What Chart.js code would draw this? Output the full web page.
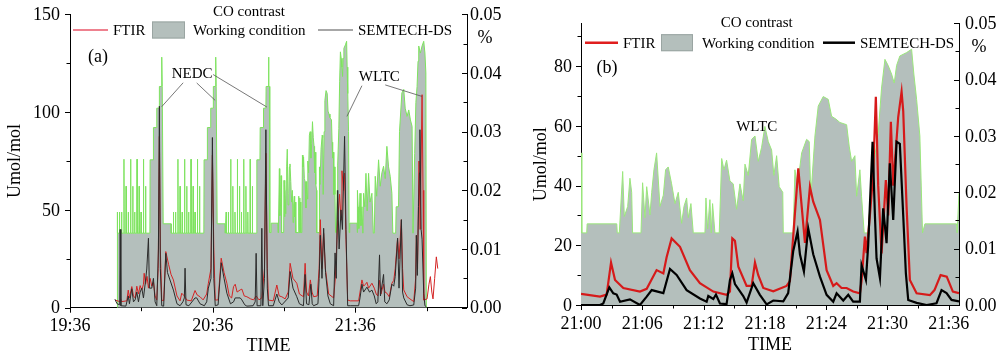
<!DOCTYPE html>
<html>
<head>
<meta charset="utf-8">
<script src="https://cdn.jsdelivr.net/npm/chart.js@4.4.1/dist/chart.umd.min.js"></script>
<style>
  body { margin: 0; background: #fff; width: 1000px; height: 359px; overflow: hidden; position: relative; }
  canvas { position: absolute; top: 0; }
  #chartA { left: 0; }
  #chartB { left: 500px; }
</style>
</head>
<body>
<canvas id="chartA" width="520" height="359"></canvas>
<canvas id="chartB" width="500" height="359"></canvas>
<script>
// ---- tick labels ----
const leftTimeTicks = [0, 60, 120];                 // minutes after 19:36
const leftTimeLabels = ['19:36', '20:36', '21:36'];
const rightTimeTicks = [0, 6, 12, 18, 24, 30, 36];  // minutes after 21:00
const rightTimeLabels = ['21:00', '21:06', '21:12', '21:18', '21:24', '21:30', '21:36'];
const leftConcTicks = [0, 50, 100, 150];
const rightConcTicks = [0, 20, 40, 60, 80];
const pctTicks = [0, 0.01, 0.02, 0.03, 0.04, 0.05];
const pctLabels = ['0.00', '0.01', '0.02', '0.03', '0.04', '0.05'];
const wltcOffset = 84; // 21:00 in minutes after 19:36

// ---- panel (a): working condition, [minute, %] ----
const leftWorkNEDC = [
  [19.85,0],[19.9,0.0163],[20.0,0.0127],
  [20.7,0.0127],[20.8,0.0163],[20.9,0.0127],
  [21.6,0.0127],[21.7,0.0163],[21.8,0.0127],
  [22.6,0.0127],[22.7,0.0253],[22.8,0.0127],
  [23.5,0.0127],[23.6,0.0207],[23.7,0.0127],
  [24.4,0.0127],[24.5,0.0163],[24.6,0.0127],
  [25.4,0.0127],[25.5,0.0253],[25.6,0.0127],
  [26.3,0.0127],[26.4,0.0207],[26.5,0.0127],
  [27.1,0.0127],[27.2,0.0163],[27.3,0.0127],
  [28.1,0.0127],[28.2,0.0253],[28.3,0.0127],
  [29.0,0.0127],[29.1,0.0207],[29.2,0.0127],
  [29.8,0.0127],[29.9,0.0163],[30.0,0.0127],
  [30.8,0.0127],[30.9,0.0253],[31.0,0.0127],
  [31.7,0.0127],[31.8,0.0207],[31.9,0.0127],
  [33.6,0.0127],[33.7,0.0252],[35.0,0.0252],[35.1,0.0307],[36.4,0.0307],[36.5,0.034],
  [37.5,0.034],[37.6,0.0377],[38.4,0.0377],[38.6,0.0427],[38.8,0.0377],[39.1,0.0377],[39.2,0.0143],
  [42.5,0.0143],[42.6,0.0127],
  [43.4,0.0127],[43.5,0.0163],[43.6,0.0127],
  [44.3,0.0127],[44.4,0.0163],[44.5,0.0127],
  [45.3,0.0127],[45.4,0.0253],[45.5,0.0127],
  [46.2,0.0127],[46.3,0.0207],[46.4,0.0127],
  [47.1,0.0127],[47.2,0.0163],[47.3,0.0127],
  [48.1,0.0127],[48.2,0.0253],[48.3,0.0127],
  [49.0,0.0127],[49.1,0.0207],[49.2,0.0127],
  [49.8,0.0127],[49.9,0.0163],[50.0,0.0127],
  [50.8,0.0127],[50.9,0.0253],[51.0,0.0127],
  [51.7,0.0127],[51.8,0.0207],[51.9,0.0127],
  [52.5,0.0127],[52.6,0.0163],[52.7,0.0127],
  [53.5,0.0127],[53.6,0.0253],[53.7,0.0127],
  [54.4,0.0127],[54.5,0.0207],[54.6,0.0127],
  [56.3,0.0127],[56.4,0.0252],[57.7,0.0252],[57.8,0.0307],[59.1,0.0307],[59.2,0.034],
  [60.2,0.034],[60.3,0.0377],[61.1,0.0377],[61.3,0.0427],[61.5,0.0377],[61.8,0.0377],[61.9,0.0143],
  [65.2,0.0143],[65.3,0.0127],
  [65.6,0.0127],[65.7,0.0163],[65.8,0.0127],
  [66.5,0.0127],[66.6,0.0163],[66.7,0.0127],
  [67.5,0.0127],[67.6,0.0253],[67.7,0.0127],
  [68.4,0.0127],[68.5,0.0207],[68.6,0.0127],
  [69.3,0.0127],[69.4,0.0163],[69.5,0.0127],
  [70.3,0.0127],[70.4,0.0253],[70.5,0.0127],
  [71.2,0.0127],[71.3,0.0207],[71.4,0.0127],
  [72.0,0.0127],[72.1,0.0163],[72.2,0.0127],
  [73.0,0.0127],[73.1,0.0253],[73.2,0.0127],
  [73.9,0.0127],[74.0,0.0207],[74.1,0.0127],
  [74.7,0.0127],[74.8,0.0163],[74.9,0.0127],
  [75.7,0.0127],[75.8,0.0253],[75.9,0.0127],
  [76.6,0.0127],[76.7,0.0207],[76.8,0.0127],
  [78.5,0.0127],[78.6,0.0252],[79.9,0.0252],[80.0,0.0307],[81.3,0.0307],[81.4,0.034],
  [82.4,0.034],[82.5,0.0377],[83.3,0.0377],[83.5,0.0427],[83.7,0.0377],[83.9,0.0377]
];
const leftWorkWLTC2 = [
  [121.2,0.0172],[121.5,0.0135],[122.0,0.0195],[122.4,0.014],[122.8,0.0172],[123.2,0.0127],
  [123.5,0.0195],[124.0,0.0172],[124.5,0.0229],[125.0,0.0165],[125.6,0.0229],[126.2,0.018],
  [127.0,0.0195],[127.6,0.0127],[128.0,0.0127],[128.4,0.0224],[129.0,0.019],[129.8,0.0252],
  [130.5,0.0207],[131.2,0.023],[131.9,0.0241],[132.6,0.022],[133.3,0.0275],[134.0,0.024],
  [134.7,0.0224],[135.4,0.0195],[135.8,0.0127],[137.0,0.0127],[137.2,0.0172],[138.2,0.0172],
  [138.6,0.03],[139.6,0.0366],[140.4,0.0372],[141.0,0.034],[141.8,0.0326],[142.5,0.0337],
  [143.2,0.032],[143.9,0.0309],[144.3,0.0127],[144.6,0.0127],[145.0,0.0263],[145.5,0.035],
  [146.0,0.0377],[146.4,0.042],[146.7,0.0446],[147.4,0.0434],[148.1,0.0446],[148.8,0.0454],
  [149.3,0.0434],[149.7,0.04],[149.9,0]
];
// ---- panel (a): concentrations, [minute, umol/mol] ----
const leftFTIR = [
  [18.9,3.9],[21.0,3.1],[21.3,4.5],[21.6,3.1],[23.9,3.5],[24.5,9],[25.0,5],[26.0,10.8],[26.7,6],
  [27.4,5],[28.1,11],[28.8,7],[29.5,11.3],[30.2,9],[30.9,12],[31.2,17.6],[31.8,12],[32.4,16],
  [33.0,10],[33.7,15],[34.4,11],[35.1,13],[35.8,6],[36.5,3.9],[37.1,20],[37.6,87.6],[38.0,30],
  [38.6,3.9],[39.4,3.5],[40.3,28.7],[41.5,22],[42.5,17],[43.5,14.2],[45.0,6],[46.3,3.5],[47.0,7.4],
  [48.1,6],[49.1,3.9],[51.0,3.5],[52.6,8.8],[53.5,6.5],[54.7,5.6],[56.0,4],[57.5,7],[58.2,12.5],
  [59.3,20],[59.9,78],[60.5,30],[61.1,3.9],[62.3,4],[63.6,25.3],[64.8,18],[66.0,12.5],[67.0,6],
  [68.0,5],[68.8,10.8],[69.5,12],[70.3,8],[71.6,9.1],[72.3,9.5],[73.3,6],[74.4,5.6],[76.0,4.5],
  [77.2,4],[78.3,6],[79.5,4],[80.7,5],[81.8,20],[82.4,79],[83.0,20],[83.5,3.9],[85.5,3.5],
  [87.0,11.6],[88.0,6],[89.1,5.6],[90.5,4.5],[91.8,8],[92.6,22.7],[93.8,15],[95.4,12.5],[96.5,7],
  [98.2,5.6],[98.9,22.7],[99.5,8],[100.3,6],[101.1,14.2],[101.8,8],[102.5,5.6],[104.0,6],[104.8,20],
  [105.3,45],[106.0,20],[106.7,38],[107.4,20],[108.8,7],[110.9,5],[111.6,15],[112.3,34.7],[112.6,45],
  [113.4,58],[114.0,45],[114.4,70],[115.1,60],[115.5,68.8],[116.1,35],[116.8,3.9],[117.9,3.5],
  [121.4,3.5],[122.0,8],[122.8,14.2],[123.5,11],[124.3,12],[124.9,13],[125.6,10],[127.0,12.5],
  [128.0,10],[128.8,7],[129.5,6],[130.2,14],[130.8,7],[131.9,12],[132.5,8],[133.3,7.4],[134.3,5.6],
  [135.4,12.5],[136.2,14],[136.8,20],[137.8,35.5],[138.4,25],[139.4,45],[139.9,20],[140.4,9.1],
  [141.8,5.6],[143.0,4.5],[144.6,3.1],[145.4,15],[145.7,37],[146.2,20],[146.8,75],[147.3,40],
  [148.1,108.9],[148.5,60],[148.8,3.9],[150.2,4.5],[151.0,12],[151.6,15.9],[152.2,8],[152.7,4.5],
  [153.4,15],[154.1,26],[154.7,20]
];
const leftSEMTECH = [
  [18.9,4.3],[19.8,2],[20.9,1.5],[21.1,40],[21.4,1],[23.5,0.8],[24.5,6],[25.0,2],[26.0,9.7],
  [26.7,3],[27.4,4],[28.1,8],[28.8,3],[29.5,8],[30.2,10],[30.9,5],[31.6,12],[32.3,19.8],[33.0,35.5],
  [33.4,10],[34.4,10],[35.1,15],[35.8,3],[36.5,1],[37.2,30],[37.6,103],[38.0,20],[38.6,1],[39.4,0.8],
  [40.3,27.8],[41.0,18],[43.5,9],[45.0,2],[46.3,1],[47.5,3],[48.1,5],[48.4,20.2],[48.8,1.5],[50.0,1],
  [52.6,5],[53.3,5],[54.7,2],[56.5,1],[57.5,3],[58.2,10],[59.3,15],[59.9,87],[60.5,15],[61.1,1],
  [62.3,1.5],[63.6,23],[64.8,15],[66.0,7.4],[67.5,2],[68.8,3],[69.5,5],[71.6,5],[72.3,4],[73.5,1.5],
  [74.4,0.8],[77.0,1],[77.9,3],[78.3,27.8],[78.7,1],[80.3,1],[80.7,40.6],[81.1,1],[81.8,15],[82.4,91],
  [83.0,10],[83.5,1],[85.5,1],[87.0,7],[88.0,3],[89.1,1.4],[91.8,5],[92.6,18.5],[93.8,10],[95.4,5.6],
  [96.5,2],[98.2,1],[98.9,17],[99.5,2],[100.5,1.5],[101.3,12],[101.9,2],[102.5,1],[104.3,2],[104.8,15],
  [105.3,37],[106.0,15],[106.7,40.6],[107.5,18],[108.5,6],[109.5,2],[110.9,1],[111.5,28],[112.0,15],
  [112.6,60],[113.2,30],[114.0,50],[114.6,40],[115.5,87.6],[116.1,40],[116.8,1],[117.9,1],[121.4,1],
  [122.0,5],[122.8,12],[123.5,8],[124.9,10.5],[126.0,8],[127.0,9],[128.0,6],[128.8,2],[129.5,3],
  [130.2,27],[130.6,6],[131.9,17],[132.4,3],[133.3,2],[134.3,4],[135.4,12],[136.2,11],[136.8,16],
  [137.8,35.5],[138.4,10],[139.4,45],[139.9,8],[140.4,5],[141.8,1.5],[143.0,1],[144.6,1.4],[145.4,10],
  [145.7,37],[146.1,16.5],[146.6,51.7],[147.0,69],[147.2,91],[147.7,40],[148.1,35],[148.8,7.4],
  [149.3,1],[149.9,0.5]
];

// ---- panel (b): WLTC detail, [minute after 21:00, value] ----
const wltcWork = [
  [0,0.027],[0.08,0.0128],[0.56,0.0128],[0.6,0.0144],[3.5,0.0144],[3.55,0.0128],[3.75,0.0128],
  [4.08,0.0237],[4.24,0.0157],[4.57,0.0175],[4.79,0.0225],[4.96,0.02],[5.05,0.0128],[5.87,0.0128],
  [6.03,0.0217],[6.26,0.0155],[6.43,0.021],[6.75,0.016],[6.92,0.02],[7.14,0.024],[7.4,0.027],
  [7.73,0.0175],[8.06,0.0195],[8.28,0.024],[8.54,0.0245],[8.87,0.0215],[9.2,0.018],[9.52,0.02],
  [9.85,0.0145],[10.08,0.0175],[10.34,0.019],[10.5,0.0155],[10.76,0.018],[10.99,0.0128],
  [12.13,0.0128],[12.23,0.019],[12.4,0.0135],[12.62,0.0187],[12.75,0.0128],[12.88,0.018],
  [13.11,0.0128],[13.53,0.0128],[13.77,0.026],[13.99,0.024],[14.25,0.0257],[14.58,0.022],
  [14.9,0.0215],[15.23,0.017],[15.56,0.0215],[15.88,0.0185],[16.05,0.025],[16.37,0.023],
  [16.7,0.0294],[17.03,0.03],[17.35,0.0255],[17.68,0.028],[18.0,0.0317],[18.33,0.029],
  [18.66,0.0275],[18.88,0.023],[19.15,0.0265],[19.4,0.021],[19.75,0.02],[19.8,0.0128],
  [20.77,0.0128],[20.94,0.024],[21.17,0.021],[21.6,0.027],[22.08,0.0294],[22.34,0.029],
  [22.5,0.0193],[22.9,0.03],[23.22,0.0353],[23.71,0.037],[24.2,0.0365],[24.53,0.0335],
  [24.95,0.033],[25.34,0.0324],[26.0,0.032],[26.25,0.0282],[26.49,0.0255],[26.81,0.0265],
  [26.98,0.0193],[27.3,0.024],[27.46,0.0193],[27.72,0.0128],[28.11,0.0128],[28.35,0.02],
  [28.6,0.0243],[29.09,0.0305],[29.42,0.0385],[29.75,0.0436],[30.07,0.0425],[30.4,0.041],
  [30.66,0.0394],[30.89,0.0425],[31.21,0.0442],[31.87,0.0448],[32.36,0.0454],[32.58,0.041],
  [32.85,0.0365],[33.17,0.03],[33.43,0.0128],[33.66,0.0144],[36.76,0.0144],[36.82,0.0128],[37.0,0.02]
];
const wltcFTIR = [
  [0,3.7],[1.86,2.8],[2.51,3.5],[2.94,14.2],[3.33,8.4],[4.14,5.7],[5.77,4.5],[6.43,5.4],[7.4,11.7],
  [8.06,10.6],[8.38,16],[8.87,22.3],[9.69,19.5],[10.66,11.7],[11.64,7.3],[12.95,4.5],[14.25,3.4],
  [14.58,4.5],[14.81,22.3],[15.07,21.5],[15.4,12.8],[16.21,6.4],[16.7,6.4],[17.03,14.2],[17.35,10],
  [17.84,5.7],[18.82,4.6],[20.12,6.4],[20.45,8],[20.77,22.9],[21.27,45.8],[21.92,20.8],[22.41,39.6],
  [22.73,34.6],[23.39,28.5],[24.04,11.7],[24.69,6.4],[25.02,7.3],[25.5,5.7],[26.0,5.7],[26.64,4.5],
  [27.3,3.9],[27.46,8],[27.79,22.9],[27.95,17.4],[28.28,30],[28.6,44],[28.86,69.8],[29.09,40],
  [29.42,17.3],[29.84,41.9],[30.07,30],[30.33,61.4],[30.56,40],[31.05,63],[31.38,71.5],[31.54,65],
  [31.87,32.9],[32.19,8.4],[32.85,3.9],[34.15,3.3],[34.6,5],[35.2,10],[35.8,9.5],[36.4,4.5],[37.0,4]
];
const wltcSEMTECH = [
  [0,0],[1.86,0],[2.18,0.5],[2.77,5.9],[3.16,3.9],[3.49,3.5],[3.82,1.1],[4.79,1.9],[5.77,0],
  [6.43,2.8],[6.92,5],[8.06,4],[8.71,12.1],[9.36,10.1],[10.34,5],[11.64,2.2],[12.3,1.1],[12.46,3],
  [12.95,2],[13.21,3.5],[13.6,0.5],[14.25,0.3],[14.58,8.4],[14.81,10.6],[15.07,7],[15.88,3],
  [16.21,0.8],[16.86,7.3],[17.51,3.4],[18.17,0.2],[18.82,1.5],[19.8,1.2],[20.28,4],[20.77,18],
  [21.2,24.6],[21.43,17],[21.82,11.2],[22.24,25.7],[22.73,17],[23.39,9.5],[24.04,3.4],[24.69,1.1],
  [25.02,3.9],[25.67,1.5],[26.16,3.4],[26.64,1.1],[27.3,1.1],[27.46,13.4],[27.89,8.4],[28.11,20],
  [28.54,54.7],[28.77,30],[28.93,15.6],[29.26,9],[29.58,32.4],[29.91,20.7],[30.23,47.5],[30.56,28.5],
  [30.89,54.7],[31.21,54],[31.54,30],[31.8,10.6],[32.03,1.7],[32.85,0.7],[33.83,0],[34.8,0.6],
  [35.29,5],[35.78,4],[36.27,1.7],[37.0,1.2]
];

// ---- helpers ----
const FONT = '"Liberation Serif", "Times New Roman", serif';
const GREY_FILL = '#b4bfbc';

function toXY(pairs, shift) {
  return pairs.map(p => ({ x: p[0] + (shift || 0), y: p[1] }));
}

// tick marks and tick labels, drawn from the chart's scales
// (right axis ticks point inward like the original)
const axisMarks = {
  id: 'axisMarks',
  afterDraw(chart, args, opts) {
    const ctx = chart.ctx, area = chart.chartArea;
    ctx.save();
    ctx.strokeStyle = '#000';
    ctx.fillStyle = '#000';
    ctx.lineWidth = 1;
    ctx.font = '18px ' + FONT;
    opts.marks.forEach(m => {
      const s = chart.scales[m.scale];
      ctx.beginPath();
      const all = m.major.map(v => [v, 5]).concat(m.minor.map(v => [v, 3.5]));
      all.forEach(([v, len]) => {
        const p = Math.round(s.getPixelForValue(v)) + 0.5;
        if (m.scale === 'x') {
          ctx.moveTo(p, area.bottom); ctx.lineTo(p, area.bottom + len);
        } else if (m.scale === 'y') {
          ctx.moveTo(area.left, p); ctx.lineTo(area.left - len, p);
        } else {
          ctx.moveTo(area.right, p); ctx.lineTo(area.right - len, p);
        }
      });
      ctx.stroke();
      m.major.forEach((v, i) => {
        const p = s.getPixelForValue(v);
        if (m.scale === 'x') {
          ctx.textAlign = 'center'; ctx.textBaseline = 'middle';
          ctx.fillText(m.labels[i], p, area.bottom + m.pad);
        } else if (m.scale === 'y') {
          ctx.textAlign = 'right'; ctx.textBaseline = 'middle';
          ctx.fillText(m.labels[i], area.left - m.pad, p + 1);
        } else {
          ctx.textAlign = 'left'; ctx.textBaseline = 'middle';
          ctx.fillText(m.labels[i], area.right + m.pad, p + 1);
        }
      });
    });
    ctx.restore();
  }
};

// legend block with "CO contrast" heading, plus text notes and leader lines
const decorations = {
  id: 'decorations',
  afterDraw(chart, args, o) {
    const ctx = chart.ctx;
    const sx = chart.scales.x, sy = chart.scales.y;
    ctx.save();
    ctx.fillStyle = '#000';
    ctx.textBaseline = 'middle';
    ctx.font = '15px ' + FONT;
    ctx.textAlign = 'center';
    ctx.fillText('CO contrast', o.title[0], o.title[1]);
    ctx.textAlign = 'left';
    const L = o.legend;
    // FTIR
    ctx.strokeStyle = L.ftirColor; ctx.lineWidth = L.lineWidth;
    ctx.beginPath(); ctx.moveTo(L.ftir[0], L.y); ctx.lineTo(L.ftir[1], L.y); ctx.stroke();
    ctx.fillText('FTIR', L.ftir[2], L.y + 1);
    // working condition box
    ctx.fillStyle = GREY_FILL;
    ctx.fillRect(L.box[0], L.y - 8.5, L.box[1] - L.box[0], 17);
    ctx.strokeStyle = '#9aa5a2'; ctx.lineWidth = 1;
    ctx.strokeRect(L.box[0] + 0.5, L.y - 8, L.box[1] - L.box[0] - 1, 16);
    ctx.fillStyle = '#000';
    ctx.fillText('Working condition', L.box[2], L.y + 1);
    // SEMTECH
    ctx.strokeStyle = L.semColor; ctx.lineWidth = L.lineWidth;
    ctx.beginPath(); ctx.moveTo(L.sem[0], L.y); ctx.lineTo(L.sem[1], L.y); ctx.stroke();
    ctx.fillText('SEMTECH-DS', L.sem[2], L.y + 1);
    // percent unit under right axis
    ctx.font = '18px ' + FONT;
    ctx.textAlign = 'center';
    ctx.fillText('%', o.pct[0], o.pct[1]);
    // notes in data coordinates
    o.notes.forEach(n => {
      ctx.font = (n.size || 15) + 'px ' + FONT;
      ctx.fillText(n.t, sx.getPixelForValue(n.x), sy.getPixelForValue(n.y));
    });
    ctx.strokeStyle = '#555';
    ctx.lineWidth = 0.8;
    ctx.beginPath();
    o.leaders.forEach(l => {
      ctx.moveTo(sx.getPixelForValue(l[0]), sy.getPixelForValue(l[1]));
      ctx.lineTo(sx.getPixelForValue(l[2]), sy.getPixelForValue(l[3]));
    });
    ctx.stroke();
    ctx.restore();
  }
};

function buildChart(canvasId, p) {
  const titleFont = { family: FONT, size: 18 };
  const axisBase = {
    grid: { display: false, drawTicks: false },
    border: { display: true, color: '#000', width: 1 },
    ticks: { display: false }
  };
  return new Chart(document.getElementById(canvasId), {
    type: 'line',
    data: {
      datasets: [
        { label: 'SEMTECH-DS', data: p.sem, borderColor: p.semColor, borderWidth: p.lineW,
          pointRadius: 0, fill: false, yAxisID: 'y', order: 1 },
        { label: 'FTIR', data: p.ftir, borderColor: p.ftirColor, borderWidth: p.lineW,
          pointRadius: 0, fill: false, yAxisID: 'y', order: 2 },
        { label: 'Working condition', data: p.work, borderColor: p.green, borderWidth: 1,
          backgroundColor: GREY_FILL, pointRadius: 0, fill: 'origin', yAxisID: 'y1', order: 3 }
      ]
    },
    options: {
      responsive: false,
      animation: false,
      events: [],
      layout: { padding: { left: 0, right: 0, top: p.top, bottom: 0 } },
      plugins: {
        legend: { display: false },
        tooltip: { enabled: false },
        axisMarks: { marks: p.marks },
        decorations: p.deco
      },
      scales: {
        x: Object.assign({}, axisBase, {
          type: 'linear', min: 0, max: p.xMax,
          afterFit: s => { s.height = p.xH; },
          title: { display: true, text: 'TIME', font: titleFont, color: '#000',
                   padding: { top: 0, bottom: p.xTitlePad } }
        }),
        y: Object.assign({}, axisBase, {
          position: 'left', min: 0, max: p.yMax,
          afterFit: s => { s.width = p.yW; },
          title: { display: true, text: 'Umol/mol', font: titleFont, color: '#000',
                   padding: { top: p.yTitlePad, bottom: 0 } }
        }),
        y1: Object.assign({}, axisBase, {
          position: 'right', min: 0, max: 0.05,
          afterFit: s => { s.width = p.y1W; }
        })
      }
    },
    plugins: [axisMarks, decorations]
  });
}

const leftWork = toXY(leftWorkNEDC).concat(toXY(wltcWork, wltcOffset), toXY(leftWorkWLTC2));
const pctMinor = [0.005, 0.015, 0.025, 0.035, 0.045];

buildChart('chartA', {
  sem: toXY(leftSEMTECH), ftir: toXY(leftFTIR), work: leftWork,
  semColor: '#2b2b2b', ftirColor: '#d42424', green: '#7ee35f', lineW: 1,
  top: 14.3, xMax: 167, xH: 51.3, yW: 70, y1W: 53, yMax: 150,
  xTitlePad: 1.5, yTitlePad: 4,
  marks: [
    { scale: 'x', major: leftTimeTicks, minor: [30, 90, 150], labels: leftTimeLabels, pad: 19 },
    { scale: 'y', major: leftConcTicks, minor: [25, 75, 125], labels: leftConcTicks.map(String), pad: 10 },
    { scale: 'y1', major: pctTicks, minor: pctMinor, labels: pctLabels, pad: 3 }
  ],
  deco: {
    title: [249, 12],
    legend: { y: 30, lineWidth: 1.3, ftirColor: '#e8576a', semColor: '#8a8a8a',
              ftir: [73, 108, 113], box: [152, 185, 193], sem: [318, 353, 358] },
    pct: [485, 38],
    notes: [ { t: 'NEDC', x: 51.4, y: 119.7 }, { t: 'WLTC', x: 130.1, y: 118.1 },
             { t: '(a)', x: 11.8, y: 127.8, size: 18 } ],
    leaders: [ [47.6, 115, 38.6, 102.8], [53.3, 114.9, 61.05, 106], [60.2, 119.2, 82.8, 102.6],
               [122.8, 113.5, 116.5, 97.8], [132.6, 113.9, 148.1, 108] ]
  }
});

buildChart('chartB', {
  sem: toXY(wltcSEMTECH), ftir: toXY(wltcFTIR), work: toXY(wltcWork),
  semColor: '#000', ftirColor: '#d61a1a', green: '#9be77c', lineW: 2.2,
  top: 23.3, xMax: 37, xH: 54, yW: 81, y1W: 41, yMax: 94.4,
  xTitlePad: 2.5, yTitlePad: 30,
  marks: [
    { scale: 'x', major: rightTimeTicks, minor: [3, 9, 15, 21, 27, 33], labels: rightTimeLabels, pad: 19 },
    { scale: 'y', major: rightConcTicks, minor: [10, 30, 50, 70, 90], labels: rightConcTicks.map(String), pad: 9 },
    { scale: 'y1', major: pctTicks, minor: pctMinor, labels: pctLabels, pad: 6 }
  ],
  deco: {
    title: [256.7, 23],
    legend: { y: 42.7, lineWidth: 2.5, ftirColor: '#e01e1e', semColor: '#000',
              ftir: [85, 118, 123], box: [161, 193, 202], sem: [323, 355, 360] },
    pct: [479, 47],
    notes: [ { t: 'WLTC', x: 17.2, y: 59.6 }, { t: '(b)', x: 2.54, y: 79.4, size: 18 } ],
    leaders: []
  }
});
</script>
</body>
</html>
